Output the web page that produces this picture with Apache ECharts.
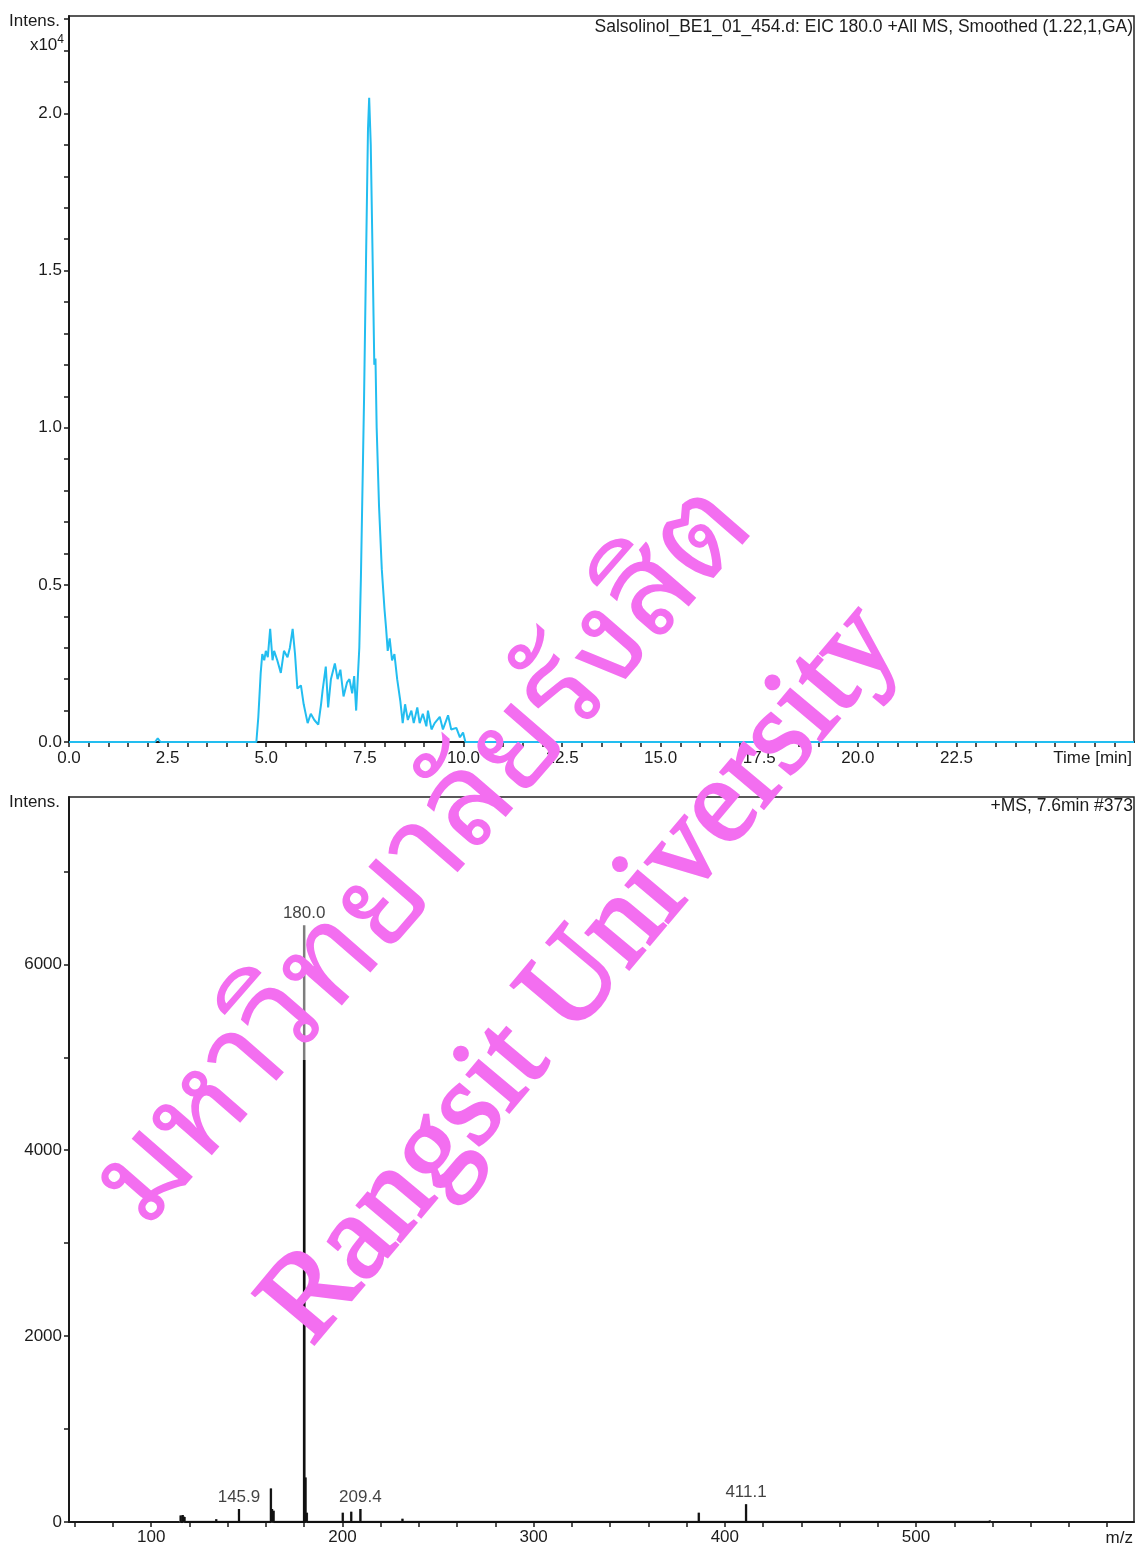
<!DOCTYPE html>
<html>
<head>
<meta charset="utf-8">
<script src="https://cdn.jsdelivr.net/npm/echarts@6/dist/echarts.min.js"></script>
<style>
html,body{margin:0;padding:0;background:#fff;}
#chart{width:1136px;height:1549px;}
</style>
</head>
<body>
<div id="chart"></div>
<script>
// ---------- Chromatogram (EIC 180.0), intensity in units of 10^4 ----------
const eicTime = [0, 0.33, 0.38, 0.43, 2.18, 2.25, 2.32, 2.83, 2.88, 2.93, 4.75, 4.80, 4.86, 4.90, 4.95, 4.99, 5.04, 5.10, 5.16, 5.20, 5.28, 5.37, 5.45, 5.54, 5.60, 5.67, 5.73, 5.79, 5.88, 5.95, 6.05, 6.13, 6.22, 6.32, 6.39, 6.43, 6.51, 6.57, 6.64, 6.74, 6.81, 6.88, 6.96, 7.05, 7.11, 7.18, 7.23, 7.28, 7.32, 7.36, 7.40, 7.48, 7.53, 7.58, 7.61, 7.65, 7.70, 7.74, 7.77, 7.80, 7.86, 7.93, 8.00, 8.04, 8.08, 8.13, 8.19, 8.25, 8.32, 8.40, 8.46, 8.52, 8.59, 8.68, 8.74, 8.83, 8.89, 8.97, 9.06, 9.10, 9.19, 9.27, 9.40, 9.48, 9.61, 9.69, 9.82, 9.91, 9.99, 10.05, 27.0];
const eicIntensity = [0, 0, 0.006, 0, 0, 0.012, 0, 0, 0.006, 0, 0, 0.08, 0.22, 0.28, 0.26, 0.29, 0.27, 0.36, 0.26, 0.29, 0.26, 0.22, 0.29, 0.27, 0.30, 0.36, 0.28, 0.17, 0.18, 0.12, 0.06, 0.09, 0.07, 0.055, 0.12, 0.165, 0.24, 0.11, 0.20, 0.25, 0.20, 0.23, 0.145, 0.19, 0.20, 0.155, 0.21, 0.10, 0.20, 0.30, 0.52, 1.09, 1.53, 1.95, 2.05, 1.90, 1.52, 1.20, 1.22, 1.00, 0.75, 0.55, 0.42, 0.36, 0.29, 0.33, 0.26, 0.28, 0.20, 0.13, 0.06, 0.12, 0.07, 0.10, 0.06, 0.11, 0.06, 0.09, 0.05, 0.10, 0.04, 0.06, 0.08, 0.04, 0.085, 0.04, 0.045, 0.015, 0.03, 0, 0];
const eicXLabels = [0, 2.5, 5, 7.5, 10, 12.5, 15, 17.5, 20, 22.5];
const eicYLabels = [0, 0.5, 1.0, 1.5, 2.0];

// ---------- Mass spectrum (+MS, 7.6 min #373) ----------
const msMz = [115.4, 116.5, 117.4, 134.0, 145.9, 162.6, 163.2, 164.0, 180.0, 180.7, 181.4, 200.2, 204.6, 209.4, 220.2, 231.4, 309.6, 364.2, 386.4, 411.1, 538.6];
const msIntensity = [70, 75, 55, 30, 140, 360, 140, 120, 6420, 480, 100, 100, 110, 140, 20, 35, 20, 15, 100, 190, 15];
// dark (profile) part of the base peak
const msBaseMz = [180.0];
const msBaseIntensity = [4970];
const msLabelMz = [145.9, 180.0, 209.4, 411.1];
const msLabelIntensity = [140, 6420, 140, 190];
const msXLabels = [100, 200, 300, 400, 500];
const msYLabels = [0, 2000, 4000, 6000];

// helpers (ticks)
function steps(a, b, s) { const r = []; for (let v = a; v <= b + 1e-9; v += s) r.push(Math.round(v * 1000) / 1000); return r; }
function sticks(xs, ys) { const d = []; xs.forEach((m, i) => { d.push([m, 0], [m, ys[i]], [m, 0]); }); return d; }

const eicData = eicTime.map((t, i) => [t, eicIntensity[i]]);
const msData = sticks(msMz, msIntensity);
const msBaseData = sticks(msBaseMz, msBaseIntensity);
const msLabelData = msLabelMz.map((m, i) => [m, msLabelIntensity[i]]);

const FONT = 'Liberation Sans, Arial, sans-serif';
const TXT = '#1c1c1c';
const FS = 17;
const axisLineStyle = { color: '#1a1a1a', width: 2 };
const tickStyle = { color: '#1a1a1a', width: 1.5 };

const chart = echarts.init(document.getElementById('chart'), null, { renderer: 'canvas' });
chart.setOption({
  animation: false,
  backgroundColor: '#ffffff',
  grid: [
    { left: 69, top: 16, right: 2, bottom: 807, show: true, borderColor: '#222', borderWidth: 1.5 },
    { left: 69, top: 797, right: 2, bottom: 27, show: true, borderColor: '#222', borderWidth: 1.5 }
  ],
  xAxis: [
    {
      type: 'value', gridIndex: 0, min: 0, max: 27,
      splitLine: { show: false },
      axisLine: { show: true, onZero: false, lineStyle: axisLineStyle },
      axisTick: { show: true, length: 5, lineStyle: tickStyle, customValues: steps(0, 26.5, 0.5) },
      axisLabel: { customValues: eicXLabels, formatter: v => v.toFixed(1), margin: 8, fontFamily: FONT, fontSize: FS, color: TXT }
    },
    {
      type: 'value', gridIndex: 1, min: 57, max: 614,
      splitLine: { show: false },
      axisLine: { show: true, onZero: false, lineStyle: axisLineStyle },
      axisTick: { show: true, length: 5, lineStyle: tickStyle, customValues: steps(60, 600, 20) },
      axisLabel: { customValues: msXLabels, formatter: v => String(v), margin: 7, fontFamily: FONT, fontSize: FS, color: TXT }
    }
  ],
  yAxis: [
    {
      type: 'value', gridIndex: 0, min: 0, max: 2.31,
      splitLine: { show: false },
      axisLine: { show: true, onZero: false, lineStyle: axisLineStyle },
      axisTick: { show: true, length: 5, lineStyle: tickStyle, customValues: steps(0, 2.3, 0.1) },
      axisLabel: { customValues: eicYLabels, formatter: v => v.toFixed(1), margin: 7, fontFamily: FONT, fontSize: FS, color: TXT }
    },
    {
      type: 'value', gridIndex: 1, min: 0, max: 7800,
      splitLine: { show: false },
      axisLine: { show: true, onZero: false, lineStyle: axisLineStyle },
      axisTick: { show: true, length: 5, lineStyle: tickStyle, customValues: steps(0, 7000, 1000) },
      axisLabel: { customValues: msYLabels, formatter: v => String(v), margin: 7, fontFamily: FONT, fontSize: FS, color: TXT }
    }
  ],
  series: [
    {
      type: 'line', xAxisIndex: 0, yAxisIndex: 0, data: eicData,
      showSymbol: false, symbol: 'none', lineStyle: { color: '#22bdf0', width: 2 }, z: 3
    },
    {
      type: 'line', xAxisIndex: 1, yAxisIndex: 1, data: msData,
      showSymbol: false, symbol: 'none', lineStyle: { color: '#7d7d7d', width: 2.5 }, z: 3
    },
    {
      type: 'line', xAxisIndex: 1, yAxisIndex: 1, data: msBaseData,
      showSymbol: false, symbol: 'none', lineStyle: { color: '#111', width: 2.5 }, z: 3
    },
    {
      type: 'line', xAxisIndex: 1, yAxisIndex: 1, data: sticks(msMz.filter((m, i) => msIntensity[i] < 1000), msIntensity.filter(v => v < 1000)),
      showSymbol: false, symbol: 'none', lineStyle: { color: '#111', width: 2 }, z: 3
    },
    {
      type: 'scatter', xAxisIndex: 1, yAxisIndex: 1, data: msLabelData,
      symbol: 'circle', symbolSize: 1, itemStyle: { color: 'rgba(0,0,0,0)' },
      label: { show: true, position: 'top', distance: 3, formatter: p => p.value[0].toFixed(1), fontFamily: FONT, fontSize: FS, color: '#111' },
      z: 4
    }
  ],
  graphic: [
    { type: 'text', left: 9, top: 13, style: { text: 'Intens.', font: FS + 'px ' + FONT, fill: TXT } },
    { type: 'text', x: 64, y: 45, style: { text: 'x10{s|4}', align: 'right', verticalAlign: 'middle', font: FS + 'px ' + FONT, fill: TXT, rich: { s: { fontSize: 12, verticalAlign: 'top', padding: [0, 0, 10, 0], fill: TXT, fontFamily: FONT } } } },
    { type: 'text', x: 1133, y: 27, style: { text: 'Salsolinol_BE1_01_454.d: EIC 180.0 +All MS, Smoothed (1.22,1,GA)', align: 'right', verticalAlign: 'middle', font: '17.5px ' + FONT, fill: TXT } },
    { type: 'text', x: 1132, y: 758, style: { text: 'Time [min]', align: 'right', verticalAlign: 'middle', font: FS + 'px ' + FONT, fill: TXT } },
    { type: 'text', left: 9, top: 794, style: { text: 'Intens.', font: FS + 'px ' + FONT, fill: TXT } },
    { type: 'text', x: 1133, y: 806, style: { text: '+MS, 7.6min #373', align: 'right', verticalAlign: 'middle', font: '17.5px ' + FONT, fill: TXT } },
    { type: 'text', x: 1133, y: 1538, style: { text: 'm/z', align: 'right', verticalAlign: 'middle', font: FS + 'px ' + FONT, fill: TXT } },
    // watermark
    { type: 'text', x: 425, y: 855, rotation: 49 * Math.PI / 180, z: 100,
      style: { text: 'มหาวิทยาลัยรังสิต', align: 'center', verticalAlign: 'middle', font: '128px "Noto Sans Thai Looped", "Noto Serif Thai", "Noto Sans Thai", Loma, Garuda, Norasi, sans-serif', fill: '#f36ef0' } },
    { type: 'text', x: 582, y: 975, rotation: 50 * Math.PI / 180, z: 100,
      style: { text: 'Rangsit University', align: 'center', verticalAlign: 'middle', font: '122px "Liberation Serif", "DejaVu Serif", serif', fill: '#f36ef0', stroke: '#f36ef0', lineWidth: 3 } }
  ]
});
</script>
</body>
</html>
